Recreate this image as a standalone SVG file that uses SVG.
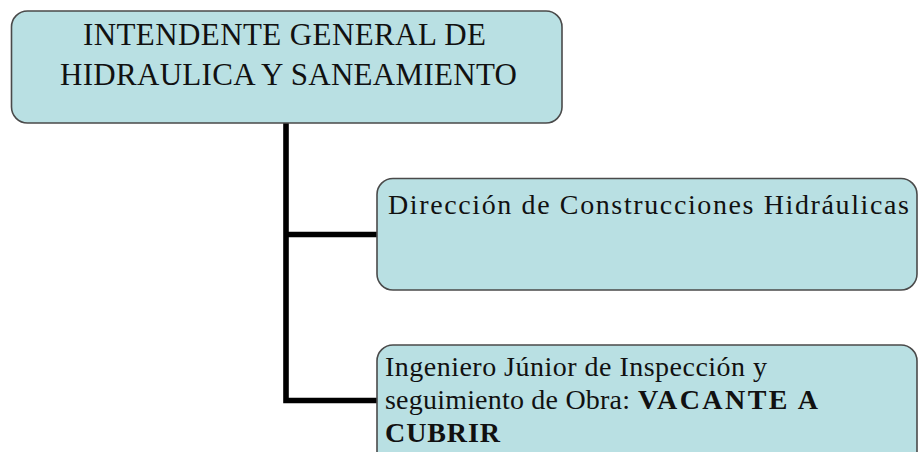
<svg xmlns="http://www.w3.org/2000/svg" width="919" height="452" viewBox="0 0 919 452">
<style>
.box{fill:#B9E0E3;stroke:#4A4A4A;stroke-width:1.6}
.t{font-family:"Liberation Serif","Times New Roman",serif;fill:#111111}
.b{font-weight:bold}
.conn{fill:none;stroke:#000000;stroke-width:5.6;stroke-linejoin:miter}
</style>
<rect width="919" height="452" fill="#FFFFFF"/>
<g id="connectors">
<polyline class="conn" points="286,123 286,400.5 377,400.5"/>
<line class="conn" x1="286" y1="234.5" x2="377" y2="234.5"/>
</g>
<g id="intendente">
<rect class="box" x="11.5" y="11" width="550.5" height="112" rx="16" ry="16"/>
<text class="t" x="284.5" y="45" font-size="31" text-anchor="middle" textLength="403" lengthAdjust="spacing">INTENDENTE GENERAL DE</text>
<text class="t" x="288.5" y="85" font-size="31" text-anchor="middle" textLength="457" lengthAdjust="spacing">HIDRAULICA Y SANEAMIENTO</text>
</g>
<g id="direccion">
<rect class="box" x="377" y="178.5" width="540" height="111.5" rx="16" ry="16"/>
<text class="t" x="388" y="214" font-size="28" textLength="521" lengthAdjust="spacing">Dirección de Construcciones Hidráulicas</text>
</g>
<g id="ingeniero">
<rect class="box" x="377" y="345" width="540" height="130" rx="16" ry="16"/>
<text class="t" x="385" y="376" font-size="28" textLength="382" lengthAdjust="spacing">Ingeniero Júnior de Inspección y</text>
<text class="t" x="385" y="409" font-size="28" textLength="245" lengthAdjust="spacing">seguimiento de Obra:</text>
<text class="t b" x="638" y="409" font-size="28" textLength="180" lengthAdjust="spacing">VACANTE A</text>
<text class="t b" x="385" y="442" font-size="28" textLength="115" lengthAdjust="spacing">CUBRIR</text>
</g>
</svg>
